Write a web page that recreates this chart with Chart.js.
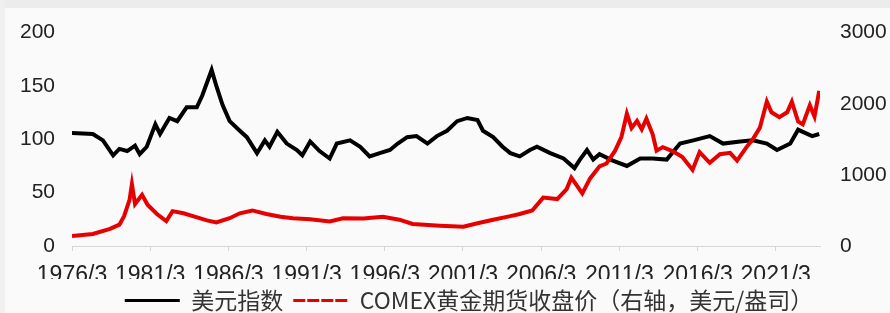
<!DOCTYPE html>
<html>
<head>
<meta charset="utf-8">
<script src="https://cdn.jsdelivr.net/npm/chart.js@4"></script>
<style>
  html, body { margin: 0; padding: 0; background: #fafafa; }
  #wrap { position: relative; width: 890px; height: 313px; overflow: hidden; }
  #topband { position: absolute; left: 0; top: 0; width: 890px; height: 8px; background: #ececec; }
  #leftband { position: absolute; left: 0; top: 0; width: 5px; height: 313px; background: #f0f0f0; }
  canvas { position: absolute; left: 0; top: 0; }
</style>
</head>
<body>
<div id="wrap">
  <div id="topband"></div>
  <div id="leftband"></div>
  <canvas id="chart" width="938" height="322"></canvas>
</div>
<script>
// US dollar index (left axis)
const dxyYears = [1976.17, 1977.5, 1978.15, 1978.8, 1979.2, 1979.7, 1980.2, 1980.5, 1980.95, 1981.5,
  1981.8, 1982.4, 1982.9, 1983.5, 1984.15, 1984.5, 1985.1, 1985.4, 1985.8, 1986.25,
  1986.9, 1987.35, 1988.0, 1988.5, 1988.8, 1989.3, 1989.9, 1990.55, 1990.9, 1991.4,
  1992.0, 1992.65, 1993.1, 1993.95, 1994.6, 1995.2, 1995.85, 1996.5, 1997.0, 1997.6,
  1998.2, 1998.9, 1999.5, 2000.15, 2000.8, 2001.45, 2002.1, 2002.45, 2003.1, 2003.7,
  2004.2, 2004.8, 2005.45, 2005.9, 2006.75, 2007.6, 2008.3, 2008.65, 2009.1, 2009.5,
  2009.9, 2010.75, 2011.65, 2012.5, 2013.3, 2014.2, 2015.05, 2015.9, 2016.95, 2017.8,
  2018.9, 2019.7, 2020.6, 2021.25, 2022.1, 2022.6, 2022.9, 2023.5, 2023.95];
const dxyValues = [106, 105, 99, 85, 91, 89, 94, 86, 93, 114,
  105, 120, 117, 130, 130, 141, 165, 150, 132, 117,
  108, 102, 87, 99, 93, 107, 96, 90, 85, 98,
  89, 82, 96, 99, 93, 84, 87, 90, 96, 102,
  103, 96, 103, 108, 117, 120, 118, 108, 102, 93,
  87, 84, 90, 93, 87, 82, 73, 81, 90, 81,
  86, 80, 75, 82, 82, 81, 96, 99, 103, 96,
  98, 99, 96, 90, 96, 109, 107, 103, 105];

// COMEX gold futures close, USD/oz (right axis)
const goldYears = [1976.17, 1977.5, 1978.6, 1979.2, 1979.5, 1979.85, 1980.0, 1980.2, 1980.65, 1981.0,
  1981.6, 1982.2, 1982.6, 1983.3, 1983.9, 1984.8, 1985.4, 1986.25, 1986.9, 1987.7,
  1988.6, 1989.5, 1990.3, 1991.4, 1992.65, 1993.5, 1994.8, 1996.05, 1997.1, 1997.95,
  1999.7, 2001.2, 2002.1, 2003.1, 2004.2, 2004.8, 2005.6, 2006.3, 2007.2, 2007.8,
  2008.1, 2008.8, 2009.3, 2009.9, 2010.35, 2010.9, 2011.3, 2011.65, 2011.95, 2012.3,
  2012.6, 2012.9, 2013.3, 2013.55, 2013.95, 2014.6, 2015.2, 2015.85, 2016.3, 2016.95,
  2017.6, 2018.25, 2018.7, 2019.3, 2019.7, 2020.15, 2020.6, 2020.9, 2021.4, 2021.9,
  2022.2, 2022.6, 2022.9, 2023.35, 2023.65, 2023.95];
const goldValues = [140, 170, 240, 300, 420, 650, 870, 590, 720, 580,
  450, 350, 490, 460, 420, 360, 330, 390, 460, 500,
  450, 410, 390, 375, 345, 390, 385, 410, 370, 310,
  285, 270, 320, 370, 420, 450, 500, 680, 660, 800,
  960, 740, 950, 1120, 1160, 1340, 1530, 1860, 1660, 1760,
  1640, 1790, 1570, 1340, 1390, 1330, 1250, 1070, 1320, 1170,
  1290, 1310, 1200, 1390, 1500, 1660, 2030, 1880, 1810, 1880,
  2030, 1750, 1710, 1980, 1820, 2180];

const tickYears = [1976.17, 1981.17, 1986.17, 1991.17, 1996.17, 2001.17, 2006.17, 2011.17, 2016.17, 2021.17];
const tickLabels = ['1976/3', '1981/3', '1986/3', '1991/3', '1996/3', '2001/3', '2006/3', '2011/3', '2016/3', '2021/3'];

const seriesNames = ['美元指数', 'COMEX黄金期货收盘价（右轴，美元/盎司）'];

const toPoints = (xs, ys) => xs.map((x, i) => ({ x: x, y: ys[i] }));

new Chart(document.getElementById('chart'), {
  type: 'line',
  data: {
    datasets: [
      {
        label: seriesNames[0],
        data: toPoints(dxyYears, dxyValues),
        borderColor: '#000000',
        borderWidth: 4,
        pointRadius: 0,
        yAxisID: 'y',
        order: 2
      },
      {
        label: seriesNames[1],
        data: toPoints(goldYears, goldValues),
        borderColor: '#e60000',
        borderWidth: 4,
        pointRadius: 0,
        yAxisID: 'y1',
        order: 1
      }
    ]
  },
  options: {
    responsive: false,
    animation: false,
    layout: { padding: { top: 25, left: 0, right: 0, bottom: 0 } },
    plugins: {
      tooltip: { enabled: false },
      legend: {
        position: 'bottom',
        labels: {
          color: '#333',
          font: { family: '"Noto Sans CJK SC", sans-serif', size: 23 },
          boxWidth: 55,
          boxHeight: 0,
          padding: 10,
          generateLabels: function() {
            return [
              { text: seriesNames[0], fillStyle: '#000', strokeStyle: '#000', lineWidth: 3, lineDash: [], fontColor: '#333', datasetIndex: 0 },
              { text: seriesNames[1], fillStyle: '#e60000', strokeStyle: '#e60000', lineWidth: 3, lineDash: [9, 5], fontColor: '#333', datasetIndex: 1 }
            ];
          }
        }
      }
    },
    scales: {
      x: {
        type: 'linear',
        min: 1976.17,
        max: 2024.0,
        afterBuildTicks: function(scale) {
          scale.ticks = tickYears.map(v => ({ value: v }));
        },
        afterFit: function(scale) { scale.height = 33; },
        grid: { display: true, drawOnChartArea: false, drawTicks: true, tickLength: 5, color: '#d6d6d6' },
        border: { display: true, color: '#d6d6d6', width: 1 },
        ticks: {
          autoSkip: false,
          maxRotation: 0,
          padding: 11,
          color: '#222',
          font: { family: '"Liberation Sans", Arial, sans-serif', size: 23 },
          callback: function(value, index) { return tickLabels[index]; }
        }
      },
      y: {
        position: 'left',
        min: 0,
        max: 200,
        afterFit: function(scale) { scale.width = 72; },
        grid: { display: false, drawTicks: false },
        border: { display: false },
        ticks: {
          stepSize: 50,
          padding: 17,
          color: '#222',
          font: { family: '"Liberation Sans", Arial, sans-serif', size: 21 },
          callback: function(value) { return String(value); }
        }
      },
      y1: {
        position: 'right',
        min: 0,
        max: 3000,
        afterFit: function(scale) { scale.width = 118; },
        grid: { display: false, drawTicks: false },
        border: { display: false },
        ticks: {
          stepSize: 1000,
          padding: 20,
          color: '#222',
          font: { family: '"Liberation Sans", Arial, sans-serif', size: 21 },
          callback: function(value) { return String(value); }
        }
      }
    }
  }
});
</script>
</body>
</html>
